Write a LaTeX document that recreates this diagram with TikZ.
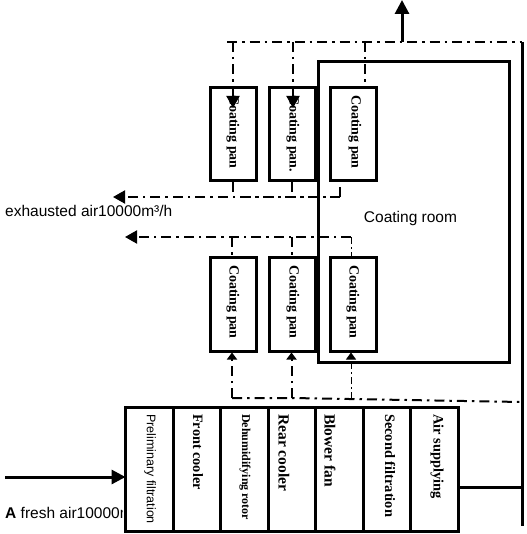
\documentclass[tikz,border=0pt]{standalone}
\usepackage{fontspec}
\setmainfont{Liberation Serif}
\newfontfamily\arialf{Liberation Sans}
\usetikzlibrary{arrows.meta}
\tikzset{
  x=1pt,y=-1pt,
  box/.style={draw,line width=3pt,minimum width=46pt,inner sep=0pt,outer sep=0pt},
  pan/.style={box,minimum height=93pt},
  cell/.style={draw,line width=3pt,inner sep=0pt,outer sep=0pt,minimum width=47.57pt,minimum height=124pt},
  vtext/.style={rotate=-90,anchor=west,font=\bfseries\fontsize{14}{14}\selectfont,inner sep=0pt},
  sanslab/.style={font=\arialf\fontsize{15.5}{17}\selectfont,inner sep=0pt},
  solidln/.style={line width=3pt},
  dd/.style={line width=2pt,dash pattern=on 10pt off 5pt on 2.5pt off 5pt},
  ddthin/.style={line width=1pt,dash pattern=on 7pt off 3pt on 2pt off 3pt},
  tip/.style={-{Triangle[length=12pt,width=13pt]}},
  tipsmall/.style={-{Triangle[length=7pt,width=10pt]}},
  tipbig/.style={-{Triangle[length=14pt,width=14pt]}},
}
\begin{document}
\begin{tikzpicture}
\useasboundingbox (0,0) rectangle (526,534);
% coordinates
\coordinate (topL) at (227,42);
\coordinate (topR) at (522,42);
\coordinate (outS) at (402,42);
\coordinate (outE) at (402,0);
\coordinate (t1) at (233,42);
\coordinate (t2) at (293,42);
\coordinate (t3) at (365,42);
\coordinate (ex1) at (113,197);
\coordinate (ex2) at (125,237);
\coordinate (freshS) at (5,477);
\coordinate (railB) at (522,526);
\coordinate (b1) at (232,398);
\coordinate (b2) at (291.5,398);
\coordinate (b3) at (351,399);
\coordinate (retR) at (522,402);
% pans and room
\node[pan] (p1) at (233.5,134) {};
\node[pan] (p2) at (292.5,134) {};
\node[pan] (p3) at (353,134) {};
\node[pan,minimum height=94pt] (q1) at (233.5,304.5) {};
\node[pan,minimum height=94pt] (q2) at (292.5,304.5) {};
\node[pan,minimum height=94pt] (q3) at (353,304.5) {};
\node[draw,line width=3pt,minimum width=190.5pt,minimum height=301pt,inner sep=0pt,outer sep=0pt] (room) at (413.75,212) {};
\node[sanslab] (roomlab) at (410.5,218) {Coating room};
% pan texts
\node[vtext] at (233,95) {Coating pan};
\node[vtext] at (293,95) {Coating pan.};
\node[vtext] at (355,95) {Coating pan};
\node[vtext] at (233,265) {Coating pan};
\node[vtext] at (293,265) {Coating pan};
\node[vtext] at (353,265) {Coating pan};
% dash-dot network
\draw[dd] (topL) -- (topR);
\draw[dd,tip] (t1) -- (233,108);
\draw[dd,tip] (t2) -- (293,108);
\draw[dd] (t3) -- (p3.north -| t3);
\draw[dd] (241,197) -- (340,197);
\draw[dd] (340,197) -- (340,182);
\draw[dd] (232.5,182) -- (232.5,197);
\draw[dd] (292,182) -- (292,197);
\draw[dd,tip] (340,197) -- (ex1);
\draw[dd,tip] (351,237) -- (ex2);
\draw[dd] (232,237) -- (232,256);
\draw[dd] (291.5,237) -- (291.5,256);
\draw[ddthin] (351,237) -- (351,256);
\draw[dd,tipsmall] (b1) -- (232,352.5);
\draw[dd,tipsmall] (b2) -- (291.5,352.5);
\draw[ddthin,tipsmall] (b3) -- (351,352.5);
\draw[dd] (b1) -- (b2) -- (retR);
% air-handling unit
\foreach \i/\x/\tx/\t/\fnt in {
  a/149.3/150/Preliminary filtration/\arialf\mdseries\fontsize{12.5}{13}\selectfont,
  b/196.9/198/Front cooler/\bfseries\fontsize{14.3}{14}\selectfont,
  c/244.4/245/Dehumidifying rotor/\bfseries\fontsize{12}{12}\selectfont,
  d/292/284/Rear cooler/\bfseries\fontsize{15.5}{14}\selectfont,
  e/339.6/330/Blower fan/\bfseries\fontsize{15.5}{14}\selectfont,
  f/387.2/390/Second filtration/\bfseries\fontsize{14.4}{14}\selectfont,
  g/434.7/437/Air supplying/\bfseries\fontsize{14.4}{14}\selectfont}{
  \node[cell] (\i) at (\x,469.5) {};
  \node[rotate=-90,anchor=west,inner sep=0pt,font=\fnt] at (\tx,414) {\t};
}
% labels (the fresh-air text is cut off by the unit, as in the reference)
\begin{scope}
\clip (0,500) rectangle (122,525);
\node[sanslab,anchor=base west] (fresh) at (5,518) {\textbf{A} fresh air10000m³/h};
\end{scope}
\node[sanslab,anchor=base west] (exlab) at (5,217) {exhausted air10000m³/h};
% solid lines
\draw[solidln,tipbig] (freshS) -- (a.west |- freshS);
\draw[solidln,tipbig] (outS) -- (outE);
\draw[solidln] (topR) -- (railB);
\draw[solidln] (g.east |- 0,487) -- (522,487);
\end{tikzpicture}
\end{document}
